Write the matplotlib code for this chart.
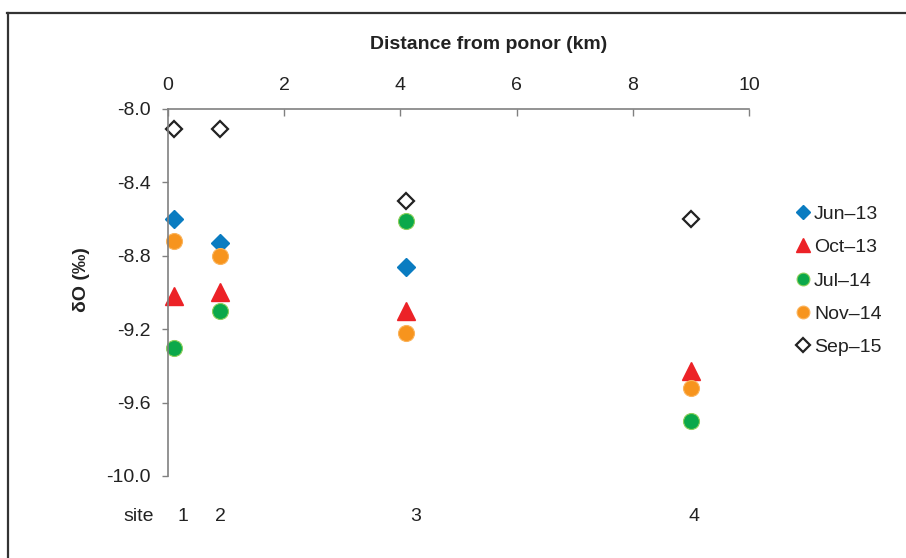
import matplotlib
matplotlib.use("Agg")
import matplotlib.pyplot as plt
from matplotlib.lines import Line2D

plt.rcParams['font.family'] = ['Liberation Sans', 'DejaVu Sans']

# Distance of each sampling site from the ponor (km)
distance_km = [0.1, 0.9, 4.1, 9.0]
site_names = ["1", "2", "3", "4"]
site_label_x = [0.26, 0.91, 4.27, 9.05]

# delta-O values (per mil) by sampling campaign; None = not sampled
jun13 = [-8.60, -8.73, -8.86, None]
oct13 = [-9.02, -9.00, -9.10, -9.43]
jul14 = [-9.30, -9.10, -8.61, -9.70]
nov14 = [-8.72, -8.80, -9.22, -9.52]
sep15 = [-8.11, -8.11, -8.50, -8.60]

series = [
    ("Jun\u201313", jun13, dict(marker="D", color="#0a7cc1", markersize=9.2, markeredgecolor="#0a7cc1")),
    ("Oct\u201313", oct13, dict(marker="^", color="#ec2227", markersize=13, markeredgecolor="#ec2227")),
    ("Jul\u201314", jul14, dict(marker="o", color="#0ba84a", markersize=11.5, markeredgecolor="#8ccf5a", markeredgewidth=0.8)),
    ("Nov\u201314", nov14, dict(marker="o", color="#f7941d", markersize=11.5, markeredgecolor="#fbb35a", markeredgewidth=0.8)),
    ("Sep\u201315", sep15, dict(marker="D", color="white", markersize=8.6, markeredgecolor="#222222", markeredgewidth=1.6)),
]

TEXT = "#222222"
FS = 14

fig = plt.figure(figsize=(9.06, 5.58), dpi=100)
ax = fig.add_axes([0.1854, 0.1470, 0.8267 - 0.1854, 0.8047 - 0.1470])

for name, vals, style in series:
    xs = [d for d, v in zip(distance_km, vals) if v is not None]
    ys = [v for v in vals if v is not None]
    ax.plot(xs, ys, linestyle="none", label=name, clip_on=False, **style)

ax.set_xlim(0, 10)
ax.set_ylim(-10.0, -8.0)
ax.set_xticks([0, 2, 4, 6, 8, 10])
ax.set_yticks([-10.0, -9.6, -9.2, -8.8, -8.4, -8.0])
ax.set_yticklabels([f"{v:.1f}" for v in ax.get_yticks()])

ax.xaxis.tick_top()
ax.xaxis.set_label_position("top")
ax.tick_params(axis="x", direction="in", length=5, width=1, color="#808080",
               labelsize=FS, labelcolor=TEXT, pad=11)
ax.tick_params(axis="y", direction="out", length=4.5, width=1, color="#808080",
               labelsize=FS, labelcolor=TEXT, pad=8)

for side in ("bottom", "right"):
    ax.spines[side].set_visible(False)
for side in ("top", "left"):
    ax.spines[side].set_color("#808080")
    ax.spines[side].set_linewidth(1.2)

ax.set_xlabel("Distance from ponor (km)", fontsize=FS, fontweight="bold",
              color=TEXT)
ax.xaxis.set_label_coords(0.5525, 1.177)
ax.xaxis.label.set_verticalalignment("center")
ax.set_ylabel("\u03b4O (\u2030)", fontsize=FS, fontweight="bold", color=TEXT)
ax.yaxis.set_label_coords(-0.134, 0.534)

# site numbers beneath the plot
ax.text(-0.24, -10.22, "site", ha="right", va="center", fontsize=FS,
        color=TEXT, transform=ax.transData)
for lx, nm in zip(site_label_x, site_names):
    ax.text(lx, -10.22, nm, ha="center", va="center", fontsize=FS,
            color=TEXT, transform=ax.transData)

leg = ax.legend(loc="upper left", bbox_to_anchor=(1.062, 0.759), frameon=False,
                fontsize=FS, handletextpad=0.0, labelspacing=0.81,
                handlelength=1.1, borderaxespad=0)
for h in leg.legend_handles:
    h.set_markersize(h.get_markersize() * 0.8)
for t in leg.get_texts():
    t.set_color(TEXT)

# frame lines along the top and left of the figure
fig.add_artist(Line2D([7 / 906, 1.0], [1 - 13 / 558, 1 - 13 / 558],
                      transform=fig.transFigure, color="#333333", linewidth=1.6))
fig.add_artist(Line2D([8 / 906, 8 / 906], [0, 1 - 13 / 558],
                      transform=fig.transFigure, color="#333333", linewidth=1.6))

fig.savefig("out.png", dpi=100)
